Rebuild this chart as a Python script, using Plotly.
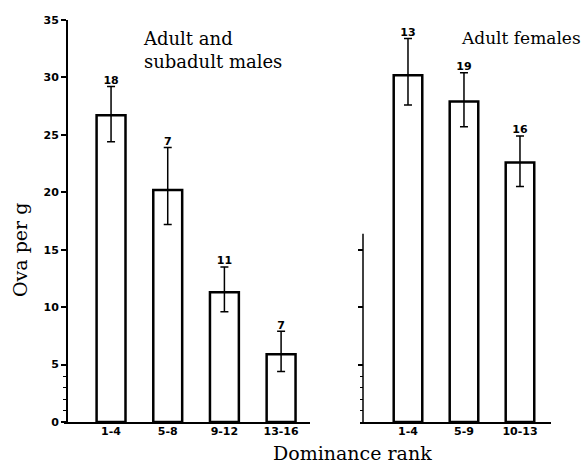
import plotly.graph_objects as go

# ---- data ----
male_ranks = ["1-4", "5-8", "9-12", "13-16"]
male_mean = [26.7, 20.2, 11.3, 5.9]
male_err_up = [2.5, 3.7, 2.2, 2.0]
male_err_down = [2.3, 3.0, 1.7, 1.5]
male_n = ["18", "7", "11", "7"]

female_ranks = ["1-4", "5-9", "10-13"]
female_mean = [30.2, 27.9, 22.6]
female_err_up = [3.2, 2.5, 2.3]
female_err_down = [2.6, 2.2, 2.1]
female_n = ["13", "19", "16"]

y_ticks = [0, 5, 10, 15, 20, 25, 30, 35]
right_ticks = [5, 10, 15]
minor_ticks = [1, 2, 3, 4]
right_axis_top = 16.4

W, H = 587, 463

def px(x):
    return x / W

def py(y):
    return 1 - y / H

SANS_B = "DejaVu Sans"
SERIF = "DejaVu Serif"

fig = go.Figure()

def add_panel(cats, mean, up, down, n, xa, ya):
    fig.add_trace(go.Bar(
        x=cats, y=mean, width=0.51,
        marker=dict(color="white", line=dict(color="black", width=2.5)),
        error_y=dict(type="data", array=up, arrayminus=down, symmetric=False,
                     color="black", thickness=1.5, width=4),
        xaxis=xa, yaxis=ya, showlegend=False, hoverinfo="skip",
    ))
    fig.add_trace(go.Scatter(
        x=cats, y=[m + u for m, u in zip(mean, up)], text=n,
        mode="text", textposition="top center",
        textfont=dict(family=SANS_B, size=11, color="black", weight="bold"),
        xaxis=xa, yaxis=ya, showlegend=False, hoverinfo="skip",
    ))

add_panel(male_ranks, male_mean, male_err_up, male_err_down, male_n, "x", "y")
add_panel(female_ranks, female_mean, female_err_up, female_err_down, female_n, "x2", "y2")

ydom = [py(422), py(20)]
tickfont = dict(family=SANS_B, size=11, color="black", weight="bold")

fig.update_layout(
    width=W, height=H, autosize=False,
    margin=dict(l=0, r=0, t=0, b=0, pad=0),
    paper_bgcolor="white", plot_bgcolor="rgba(0,0,0,0)",
    xaxis=dict(domain=[px(64), px(310)], range=[-0.83, 3.51], anchor="y",
               showline=True, linecolor="black", linewidth=2, ticks="",
               showgrid=False, zeroline=False, tickfont=tickfont,
               ticklabelstandoff=-2, automargin=False),
    yaxis=dict(domain=ydom, range=[0, 35], anchor="free", position=px(67),
               showline=True, linecolor="black", linewidth=2,
               tickvals=y_ticks, ticks="outside", ticklen=5, tickwidth=1.5,
               tickcolor="black", showgrid=False, zeroline=False,
               tickfont=tickfont, automargin=False,
               minor=dict(tickvals=minor_ticks, ticks="outside", ticklen=3,
                          tickwidth=1.2, tickcolor="black", showgrid=False)),
    xaxis2=dict(domain=[px(360), px(551)], range=[-0.857, 2.554], anchor="y2",
                showline=True, linecolor="black", linewidth=2, ticks="",
                showgrid=False, zeroline=False, tickfont=tickfont,
                ticklabelstandoff=-2, automargin=False),
    yaxis2=dict(domain=ydom, range=[0, 35], anchor="free", position=px(363),
                showline=False, tickvals=right_ticks, ticks="outside",
                ticklen=5, tickwidth=1.5, tickcolor="black",
                showticklabels=False, showgrid=False, zeroline=False,
                automargin=False,
                minor=dict(tickvals=minor_ticks, ticks="outside", ticklen=3,
                           tickwidth=1.2, tickcolor="black", showgrid=False)),
    shapes=[dict(type="line", xref="paper", yref="y2",
                 x0=px(363), x1=px(363), y0=0, y1=right_axis_top,
                 line=dict(color="black", width=1.5))],
    annotations=[
        dict(text="Adult and<br>subadult males", xref="paper", yref="paper",
             x=px(141), y=py(26), xanchor="left", yanchor="top", align="left",
             showarrow=False, font=dict(family=SERIF, size=18, color="black")),
        dict(text="Adult females", xref="paper", yref="paper",
             x=px(459), y=py(26), xanchor="left", yanchor="top", align="left",
             showarrow=False, font=dict(family=SERIF, size=17, color="black")),
        dict(text="Ova per g", xref="paper", yref="paper",
             x=px(20), y=py(250), xanchor="center", yanchor="middle",
             textangle=-90, showarrow=False,
             font=dict(family=SERIF, size=19, color="black")),
        dict(text="Dominance rank", xref="paper", yref="paper",
             x=px(352), y=py(453), xanchor="center", yanchor="middle",
             showarrow=False, font=dict(family=SERIF, size=19, color="black")),
    ],
)

fig.write_html(
    "out.html",
    config={"displayModeBar": False},
    post_script="document.body.style.margin='0';document.body.style.overflow='hidden';",
)
